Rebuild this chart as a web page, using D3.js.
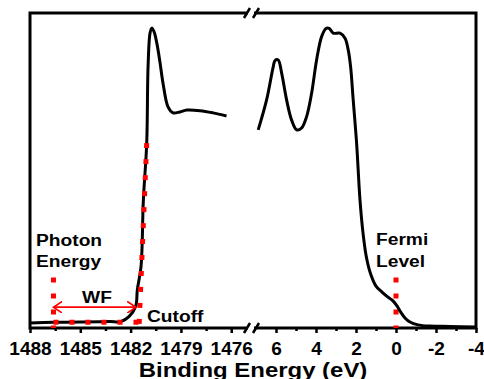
<!DOCTYPE html>
<html>
<head>
<meta charset="utf-8">
<script src="https://cdn.jsdelivr.net/npm/d3@7"></script>
<style>
  body { margin: 0; background: #fff; }
  svg text { font-family: "Liberation Sans", Arial, sans-serif; font-weight: bold; fill: #000; }
</style>
</head>
<body>
<svg id="chart" width="484" height="379"></svg>
<script>
// left segment: secondary electron cutoff (binding energy, eV)
const leftBE = [1488.0, 1486.6, 1485.0, 1483.8, 1483.2, 1482.6, 1482.1, 1481.7, 1481.6, 1481.38, 1481.24, 1481.04,
  1480.96, 1480.84, 1480.74, 1480.6, 1480.44, 1480.25, 1480.07, 1479.77, 1479.47, 1479.06, 1478.64, 1477.86, 1477.09, 1476.28];
const leftInt = [1.6, 1.8, 1.9, 2.0, 2.1, 2.0, 3.6, 6.8, 12.1, 19.5, 40.6, 58.7,
  82.9, 93.7, 95.2, 94.0, 90.5, 84.4, 77.8, 70.2, 68.3, 68.6, 69.2, 69.0, 68.3, 67.3];

// right segment: valence band
const rightBE = [6.89, 6.47, 6.14, 6.05, 5.89, 5.72, 5.47, 5.22, 4.97, 4.72, 4.47, 4.22, 3.97, 3.72, 3.5, 3.34,
  3.14, 2.8, 2.55, 2.39, 2.27, 2.14, 1.97, 1.8, 1.65, 1.5, 1.3, 1.0, 0.7, 0.4, 0.15, -0.05, -0.2, -0.45, -0.7,
  -1.1, -1.7, -2.7, -4.0];
const rightInt = [62.9, 72.4, 82.9, 84.9, 85.1, 81.0, 72.4, 66.0, 62.9, 63.5, 67.1, 74.5, 85.1, 92.5, 95.1, 95.1,
  93.6, 93.6, 92.0, 88.3, 83.0, 72.4, 58.7, 40.6, 30.2, 23.2, 17.8, 13.3, 11.4, 9.8, 8.6, 7.0, 5.4, 3.2, 1.9,
  1.0, 0.6, 0.5, 0.3];

const leftTicks = [1488, 1485, 1482, 1479, 1476];
const leftMinor = [1486.5, 1483.5, 1480.5, 1477.5];
const rightTicks = [6, 4, 2, 0, -2, -4];
const rightMinor = [5, 3, 1, -1, -3];

// annotations
const photonEnergy = 1486.6;
const cutoffLine = [[1481.04, 58.7], [1481.5, 0]];
const wfLevel = 6.6;
const wfEnd = 1481.5;
const baseLevel = 1.8;
const fermiLevel = 0;
const markerTop = 16;

const svg = d3.select("#chart");
const plotTop = 13, plotBottom = 328, plotLeft = 30, plotRight = 476;
const breakL = 248, breakR = 254;

const xLeft = d3.scaleLinear().domain([1488, 1475]).range([plotLeft, breakL]);
const xRight = d3.scaleLinear().domain([7.1, -4]).range([breakR, plotRight]);
const y = d3.scaleLinear().domain([0, 100]).range([plotBottom, plotTop]);

const fmt = d => String(d);

function addAxis(scale, major, minor) {
  svg.append("g")
    .attr("transform", `translate(0,${plotBottom})`)
    .call(d3.axisBottom(scale).tickValues(minor).tickSize(3).tickFormat(""))
    .call(g => g.select(".domain").remove())
    .call(g => g.selectAll("text").remove())
    .call(g => g.selectAll("line").attr("stroke", "#000").attr("stroke-width", 2.5));
  svg.append("g")
    .attr("transform", `translate(0,${plotBottom})`)
    .call(d3.axisBottom(scale).tickValues(major).tickSize(5).tickPadding(9).tickFormat(fmt))
    .call(g => g.select(".domain").remove())
    .call(g => g.selectAll("line").attr("stroke", "#000").attr("stroke-width", 2.5))
    .call(g => g.selectAll("text").attr("font-size", 19))
    .attr("font-family", null);
}
addAxis(xLeft, leftTicks, leftMinor);
addAxis(xRight, rightTicks, rightMinor);

// frame with axis break
svg.append("path")
  .attr("d", `M${breakL},${plotTop}H${plotLeft}V${plotBottom}H${breakL}M${breakR},${plotBottom}H${plotRight}V${plotTop}H${breakR}`)
  .attr("fill", "none")
  .attr("stroke", "#000")
  .attr("stroke-width", 3);

[plotTop, plotBottom].forEach(yy => {
  [breakL - 1, breakR + 2].forEach(xx => {
    svg.append("line")
      .attr("x1", xx - 3).attr("y1", yy + 5)
      .attr("x2", xx + 3).attr("y2", yy - 5)
      .attr("stroke", "#000").attr("stroke-width", 2.5);
  });
});

const line = (xs) => d3.line()
  .x(d => xs(d[0]))
  .y(d => y(d[1]))
  .curve(d3.curveCatmullRom.alpha(0.5));

const red = "#ff0000";
const dotted = g => g.attr("fill", "none").attr("stroke", red).attr("stroke-width", 5).attr("stroke-dasharray", "5,11");

// red guides (drawn under curve)
svg.append("path")
  .attr("d", d3.line()([[xLeft(photonEnergy), y(markerTop)], [xLeft(photonEnergy), plotBottom]]))
  .call(dotted);
svg.append("path")
  .attr("d", d3.line()([[xRight(fermiLevel), y(markerTop)], [xRight(fermiLevel), plotBottom]]))
  .call(dotted);

// spectrum
svg.append("path")
  .attr("d", line(xLeft)(d3.zip(leftBE, leftInt)))
  .attr("fill", "none").attr("stroke", "#000").attr("stroke-width", 3);
svg.append("path")
  .attr("d", line(xRight)(d3.zip(rightBE, rightInt)))
  .attr("fill", "none").attr("stroke", "#000").attr("stroke-width", 3);

// red dots over curve (cutoff tangent, baseline)
svg.append("path")
  .attr("d", d3.line()(cutoffLine.map(d => [xLeft(d[0]), y(d[1])])))
  .call(dotted);
svg.append("path")
  .attr("d", d3.line()([[xLeft(photonEnergy), y(baseLevel)], [xLeft(wfEnd), y(baseLevel)]]))
  .call(dotted);

// WF arrow
const defs = svg.append("defs");
defs.append("marker")
  .attr("id", "arr")
  .attr("viewBox", "0 0 10 12")
  .attr("refX", 9).attr("refY", 6)
  .attr("markerWidth", 10).attr("markerHeight", 12)
  .attr("markerUnits", "userSpaceOnUse")
  .attr("orient", "auto-start-reverse")
  .append("path")
  .attr("d", "M0,0L9,6L0,12")
  .attr("fill", "none").attr("stroke", red).attr("stroke-width", 1.6);

svg.append("line")
  .attr("x1", xLeft(photonEnergy)).attr("y1", y(wfLevel))
  .attr("x2", xLeft(wfEnd) - 3).attr("y2", y(wfLevel))
  .attr("stroke", red).attr("stroke-width", 1.8)
  .attr("marker-start", "url(#arr)")
  .attr("marker-end", "url(#arr)");

// labels (source figure text is slightly stretched horizontally)
const label = (x, yy, t, anchor = "start", size = 17, sx = 1.13) => svg.append("text")
  .attr("transform", `translate(${x},${yy}) scale(${sx},1)`)
  .attr("font-size", size).attr("text-anchor", anchor).text(t);

label(36, 246, "Photon");
label(36, 267, "Energy");
label(97, 303, "WF", "middle");
label(147, 322, "Cutoff");
label(376, 245, "Fermi");
label(376, 267, "Level");

label(253, 377, "Binding Energy (eV)", "middle", 21, 1.14);
</script>
</body>
</html>
